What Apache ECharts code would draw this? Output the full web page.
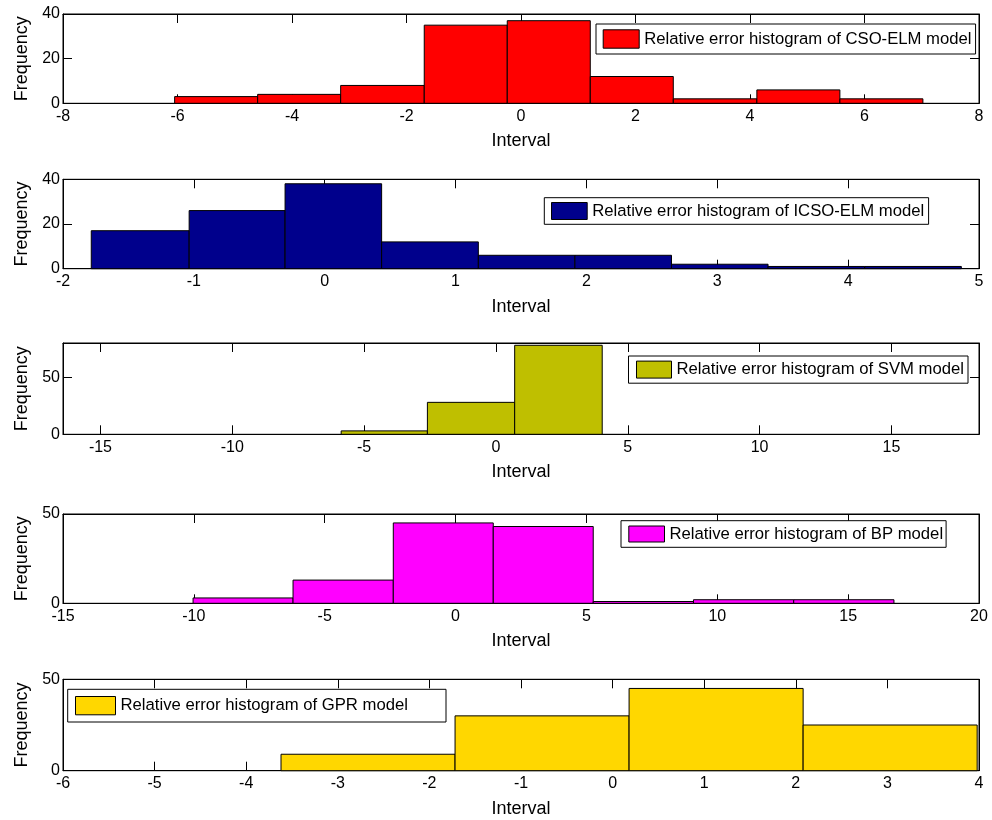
<!DOCTYPE html>
<html>
<head>
<meta charset="utf-8">
<script src="https://cdn.jsdelivr.net/npm/echarts@6/dist/echarts.min.js"></script>
<style>
  html, body { margin: 0; padding: 0; background: #fff; }
  #chart { width: 992px; height: 820px; }
</style>
</head>
<body>
<div id="chart"></div>
<script>
// Histogram bin edges and counts for each model's relative error
const csoEdges  = [-6.05, -4.60, -3.15, -1.69, -0.24, 1.21, 2.66, 4.12, 5.57, 7.02];
const csoCounts = [3, 4, 8, 35, 37, 12, 2, 6, 2];

const icsoEdges  = [-1.784, -1.036, -0.303, 0.435, 1.174, 1.912, 2.65, 3.388, 4.127, 4.865];
const icsoCounts = [17, 26, 38, 12, 6, 6, 2, 1, 1];

const svmEdges  = [-5.87, -2.60, 0.71, 4.03];
const svmCounts = [3, 28, 78];

const bpEdges  = [-10.03, -6.21, -2.38, 1.44, 5.26, 9.09, 12.92, 16.75];
const bpCounts = [3, 13, 45, 43, 1, 2, 2];

const gprEdges  = [-3.62, -1.72, 0.18, 2.08, 3.98];
const gprCounts = [9, 30, 45, 25];

const seriesNames = [
  'Relative error histogram of CSO-ELM model',
  'Relative error histogram of ICSO-ELM model',
  'Relative error histogram of SVM model',
  'Relative error histogram of BP model',
  'Relative error histogram of GPR model'
];

// Axis extents and tick values
const xRanges = [[-8, 8], [-2, 5], [-16.42, 18.32], [-15, 20], [-6, 4]];
const xTicks = [
  [-8, -6, -4, -2, 0, 2, 4, 6, 8],
  [-2, -1, 0, 1, 2, 3, 4, 5],
  [-15, -10, -5, 0, 5, 10, 15],
  [-15, -10, -5, 0, 5, 10, 15, 20],
  [-6, -5, -4, -3, -2, -1, 0, 1, 2, 3, 4]
];
const yRanges = [[0, 40], [0, 40], [0, 80], [0, 50], [0, 50]];
const yTicks = [[0, 20, 40], [0, 20, 40], [0, 50], [0, 50], [0, 50]];

const xLabel = 'Interval';
const yLabel = 'Frequency';

// ---- layout and style ----
const edgesList  = [csoEdges, icsoEdges, svmEdges, bpEdges, gprEdges];
const countsList = [csoCounts, icsoCounts, svmCounts, bpCounts, gprCounts];
const colors = ['#ff0000', '#00008c', '#bfbf00', '#ff00ff', '#ffd700'];

const FONT = '"Liberation Sans", Arial, sans-serif';
const plotLeft = 63, plotWidth = 916;
const panelTops = [14, 179.3, 343, 514, 679.3];
const panelHeights = [89.3, 89.4, 91.3, 89.3, 91.4];

// legend boxes: left, top, padding [t, r, b, l], icon w, icon h
const legendLayout = [
  { left: 596,   top: 24,    padding: [5.3, 4, 5.3, 6.7], iw: 36,   ih: 18.4 },
  { left: 544.3, top: 197.7, padding: [4.3, 4.4, 4.3, 6.7], iw: 35.7, ih: 17 },
  { left: 628.5, top: 356,   padding: [4.6, 4, 4.6, 7.5], iw: 35,   ih: 17 },
  { left: 621,   top: 520.7, padding: [4.3, 3, 4.3, 7.3], iw: 35.7, ih: 16 },
  { left: 67.7,  top: 689.3, padding: [6.7, 38, 6.7, 7.3], iw: 40,   ih: 18.3 }
];

const black = '#000';
const grid = [], xAxis = [], yAxis = [], series = [], legend = [];

for (let i = 0; i < 5; i++) {
  grid.push({
    left: plotLeft, width: plotWidth, top: panelTops[i], height: panelHeights[i],
    show: true, borderColor: black, borderWidth: 1, backgroundColor: 'transparent'
  });

  const xCommon = {
    type: 'value', gridIndex: i, min: xRanges[i][0], max: xRanges[i][1],
    axisLine: { show: true, onZero: false, lineStyle: { color: black, width: 1 } },
    axisTick: { show: true, inside: true, length: 9, customValues: xTicks[i], lineStyle: { color: black, width: 1 } },
    splitLine: { show: false }
  };
  xAxis.push(Object.assign({}, xCommon, {
    position: 'bottom',
    axisLabel: { customValues: xTicks[i], color: black, fontSize: 16, fontFamily: FONT, margin: 5 },
    name: xLabel, nameLocation: 'middle', nameGap: 29,
    nameTextStyle: { color: black, fontSize: 18, fontFamily: FONT }
  }));
  xAxis.push(Object.assign({}, xCommon, {
    position: 'top', axisLabel: { show: false }
  }));

  const yCommon = {
    type: 'value', gridIndex: i, min: yRanges[i][0], max: yRanges[i][1],
    axisLine: { show: true, onZero: false, lineStyle: { color: black, width: 1 } },
    axisTick: { show: true, inside: true, length: 9, customValues: yTicks[i], lineStyle: { color: black, width: 1 } },
    splitLine: { show: false }
  };
  yAxis.push(Object.assign({}, yCommon, {
    position: 'left',
    axisLabel: { customValues: yTicks[i], color: black, fontSize: 16, fontFamily: FONT, margin: 3 },
    name: yLabel, nameLocation: 'middle', nameGap: 31, nameRotate: 90,
    nameTextStyle: { color: black, fontSize: 18, fontFamily: FONT }
  }));
  yAxis.push(Object.assign({}, yCommon, {
    position: 'right', axisLabel: { show: false }
  }));

  const edges = edgesList[i];
  series.push({
    type: 'custom',
    name: seriesNames[i],
    xAxisIndex: 2 * i,
    yAxisIndex: 2 * i,
    itemStyle: { color: colors[i] },
    encode: { x: [0, 1], y: 2 },
    data: countsList[i].map((c, k) => [edges[k], edges[k + 1], c]),
    renderItem: function (params, api) {
      const topLeft = api.coord([api.value(0), api.value(2)]);
      const bottomRight = api.coord([api.value(1), 0]);
      return {
        type: 'rect',
        shape: {
          x: topLeft[0], y: topLeft[1],
          width: bottomRight[0] - topLeft[0],
          height: bottomRight[1] - topLeft[1]
        },
        style: { fill: api.visual('color'), stroke: black, lineWidth: 1 }
      };
    }
  });

  const L = legendLayout[i];
  legend.push({
    data: [seriesNames[i]],
    left: L.left, top: L.top, padding: L.padding,
    orient: 'horizontal',
    icon: 'rect', itemWidth: L.iw, itemHeight: L.ih,
    backgroundColor: '#fff', borderColor: black, borderWidth: 1, borderRadius: 0,
    selectedMode: false,
    itemStyle: { borderColor: black, borderWidth: 1 },
    textStyle: { color: black, fontSize: 16.7, fontFamily: FONT, lineHeight: 18 }
  });
}

const chart = echarts.init(document.getElementById('chart'), null, { renderer: 'canvas' });
chart.setOption({
  animation: false,
  backgroundColor: '#fff',
  textStyle: { fontFamily: FONT },
  grid, xAxis, yAxis, series, legend
});
</script>
</body>
</html>
